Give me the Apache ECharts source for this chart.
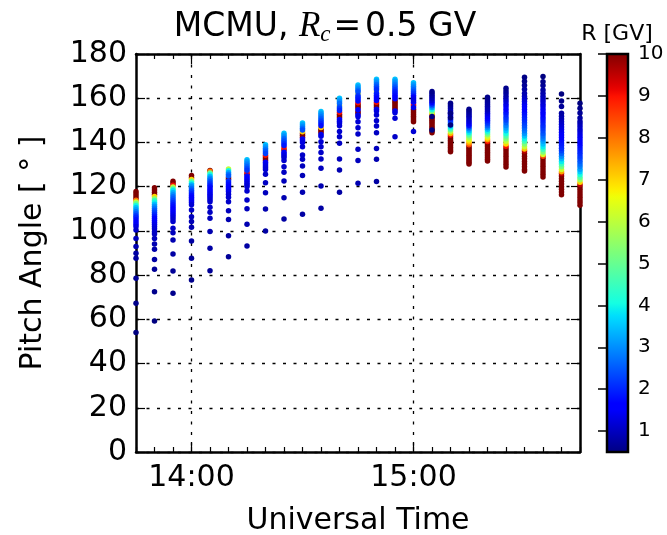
<!DOCTYPE html>
<html><head><meta charset="utf-8">
<script src="https://cdn.jsdelivr.net/npm/echarts@6/dist/echarts.min.js"></script>
<style>html,body{margin:0;padding:0;background:#fff}#c{width:667px;height:535px}</style>
</head><body><div id="c"></div>
<script>
// time of each column, minutes after 00:00 UT (13:45 ... 15:45)
const colTimes = [825,830,835,840,845,850,855,860,865,870,875,880,885,890,895,900,905,910,915,920,925,930,935,940,945];
const hourLabels = {840:'14:00', 900:'15:00'};
const yTicks = [0,20,40,60,80,100,120,140,160,180];
const cbTicks = [1,2,3,4,5,6,7,8,9,10];

// each column: [pitch angle (deg), rigidity R (GV)]
const col1345 = [[117.8,14],[116.8,12],[115.8,11],[114.8,10],[113.9,8],[113.1,6],[112.3,5],[111.4,4],[110.5,3.5],[109.6,3.2],[108.7,2.8],[107.8,2.5],[106.9,2.2],[106,2],[105,1.8],[104,1.6],[103,1.5],[102,1.3],[100.4,1.1],[96.6,1],[92.9,0.9],[89.9,0.8],[87.6,0.75],[78.6,0.7],[67.3,0.6],[54,0.5]];
const col1350 = [[119.5,14],[118.5,12],[117.5,11],[116.5,10],[115.5,7],[114.5,5.5],[113.7,4.5],[112.9,4],[112,3.5],[111.1,3.1],[110.2,2.8],[109.3,2.5],[108.4,2.3],[107.5,2.1],[106.6,1.9],[105.7,1.7],[104.8,1.6],[103.9,1.5],[103,1.4],[102,1.3],[101,1.2],[99.6,1.1],[98.6,1.05],[96.6,1],[94.1,0.9],[91.7,0.85],[87.1,0.8],[82.6,0.7],[72.5,0.6],[59.2,0.5]];
const col1355 = [[122.5,13],[121.5,11],[120.6,9],[119.8,6],[119,4.5],[118.1,3.8],[117.2,3.3],[116.3,3],[115.4,2.7],[114.5,2.5],[113.6,2.3],[112.7,2.1],[111.8,1.9],[110.9,1.8],[110,1.7],[109.1,1.6],[108.2,1.5],[107.3,1.4],[106.4,1.3],[105.4,1.2],[104.3,1.15],[101.2,1.1],[99.2,1],[95.9,0.9],[89.6,0.8],[81.9,0.7],[71.8,0.6]];
const col1400 = [[125,12],[124,10],[123.2,7],[122.4,5],[121.6,4],[120.8,3.3],[120,3],[119.2,2.7],[118.4,2.4],[117.6,2.2],[116.8,2],[116,1.8],[115.2,1.7],[114.4,1.6],[113.6,1.5],[112.8,1.4],[111.8,1.2],[109.5,1.1],[106.4,1],[104.2,0.95],[101.6,0.9],[95.4,0.8],[87.6,0.7],[77.8,0.6]];
const col1405 = [[127.3,10],[127,8],[126.2,5],[125.4,4],[124.6,3.4],[123.8,3],[123,2.7],[122.2,2.4],[121.4,2.2],[120.6,2],[119.8,1.8],[119,1.7],[118.2,1.6],[117.4,1.5],[116.6,1.4],[115.8,1.35],[115,1.3],[114.1,1.2],[113.2,1.15],[110.7,1.1],[108.4,1.05],[105.7,1],[99.7,0.9],[92.1,0.8],[82,0.7]];
const col1410 = [[128,6],[127.2,4],[126.4,3.3],[125.6,2.8],[124.8,2.5],[124,10],[123.4,12],[122.6,2.1],[121.8,1.9],[121,1.8],[120.2,1.7],[119.4,1.6],[118.6,1.5],[117.8,1.4],[116.6,1.2],[115.2,1.15],[113.2,1.1],[109.1,1],[105.2,0.9],[97.8,0.8],[88.3,0.7]];
const col1415 = [[132.2,3.5],[131.4,3.2],[130.6,3],[129.8,2.8],[129,2.6],[128.2,2.4],[127.4,2.2],[126.4,9],[125.6,11],[124.8,1.8],[124,1.6],[123.2,1.5],[122.4,1.4],[121.6,1.3],[120.8,1.25],[120,1.2],[118,1.15],[114,1.1],[110,1],[103,0.9],[93.2,0.8]];
const col1420 = [[139,3.5],[138.2,3.2],[137.4,3],[136.6,2.7],[135.8,2.5],[135,2.3],[134.2,9],[133.4,10],[132.6,11],[131.8,12],[131,1.5],[130.2,1.4],[129.4,1.3],[128.6,1.25],[127.8,1.2],[125.6,1.1],[121.8,1.05],[117.3,1],[109.9,0.9],[100,0.8]];
const col1425 = [[144.2,3.5],[143.4,3.2],[142.6,3],[141.8,2.7],[141,2.5],[140.2,2.3],[139.4,2.1],[138.6,1.9],[137.6,9],[136.6,11],[135.6,1.5],[134.8,1.4],[134,1.3],[133.2,1.2],[131.8,1.15],[129,1.1],[126.5,1.05],[122.6,1],[115,0.9],[105.4,0.8]];
const col1430 = [[148.8,3.5],[148,3.2],[147.2,3],[146.4,2.7],[145.6,2.4],[144.8,7],[144,10],[143.2,11],[142.4,12],[141.6,1.6],[140.8,1.4],[140,1.3],[138.1,1.2],[134.3,1.1],[132.4,1.05],[129.4,1],[125,0.95],[117.5,0.9],[107.5,0.8]];
const col1435 = [[154,3.5],[153.2,3.2],[152.4,3],[151.6,2.8],[150.8,2.6],[150,2.4],[149.2,2.2],[148.4,2],[147.6,1.8],[146.8,7],[146,10],[145.2,11],[144.4,12],[143.6,1.4],[142.8,1.3],[140.3,1.2],[138.1,1.15],[135.4,1.1],[132.5,1.05],[128.3,1],[120.3,0.9],[110.2,0.8]];
const col1440 = [[160,3.5],[159.2,3.2],[158.4,3],[157.6,2.7],[156.8,6.5],[156,2.4],[155.2,2.2],[154.4,2],[153.6,9],[152.8,11],[152,10],[151.2,12],[150.4,1.6],[149.6,1.4],[148.8,1.3],[147.6,1.2],[144.9,1.15],[142.6,1.1],[139.6,1.05],[132.5,1],[127.5,0.9],[117.5,0.8]];
const col1445 = [[166,3.5],[165.2,3.2],[164.4,3],[163.6,2.7],[162.8,2.4],[162,6.5],[161.2,2.2],[160.4,2],[159.6,1.9],[158.8,1.8],[158,9],[157.2,11],[156.4,10],[155.6,12],[154.8,1.6],[154,13],[153.2,11],[152.4,1.4],[151.6,1.3],[149.4,1.2],[146.7,1.15],[143.8,1.1],[136.9,1.05],[131.8,1],[121.5,0.9]];
const col1450 = [[168.6,3.5],[167.8,3.2],[167,3],[166.2,2.7],[165.4,2.5],[164.6,2.3],[163.8,2.1],[163,6.5],[162.2,2],[161.4,1.9],[160.6,1.8],[159.8,1.7],[159,1.6],[158.2,9],[157.4,11],[156.6,10],[155.8,12],[155,1.4],[154.2,1.3],[152.4,1.2],[149.8,1.15],[147.4,1.1],[144.4,1.05],[137.3,1],[132.4,0.9],[122.3,0.8]];
const col1455 = [[168.6,3.5],[167.8,3.2],[167,3],[166.2,2.8],[165.4,2.6],[164.6,2.4],[163.8,2.2],[163,2],[162.2,1.9],[161.4,1.8],[160.6,1.7],[159.8,1.6],[159,10],[158.2,12],[157.4,11],[156.6,13],[155.8,10],[155,12],[154.2,1.4],[153.4,1.3],[150.9,1.2],[142.6,1.1]];
const col1500 = [[167,3.5],[166.2,3.2],[165.4,3],[164.6,2.8],[163.8,2.6],[163,2.4],[162.2,2.2],[161.4,2],[160.6,1.5],[159.8,1.4],[159,1.3],[158.2,1.6],[157.4,9],[156.6,11],[155.8,1.4],[155,12],[154.2,10],[153.4,13],[152.6,11],[151.8,14],[151,12],[150.2,15],[149.4,13],[144.9,1.2]];
const col1505 = [[163,0.6],[162.2,0.7],[161.4,0.8],[160.6,0.9],[159.8,1],[159,1.2],[158.2,1.5],[157.4,2],[156.6,2.6],[155.8,3.2],[155,4],[154.2,5],[153.4,6.2],[152.8,7.5],[152.2,9],[151.5,10.5],[150.8,11],[150,12],[149.2,13],[148.4,14],[147.6,15],[146.8,16],[146,17],[145.2,18],[144.4,19],[151.7,0.55],[145.6,0.5]];
const col1510 = [[157.7,0.6],[156.9,0.7],[156.1,0.8],[155.3,0.9],[154.5,1],[153.7,1.2],[152.9,1.4],[152.1,1.6],[151.3,1.8],[150.5,2],[149.7,2.3],[148.9,2.7],[148.1,3.1],[147.3,3.6],[146.5,4.2],[145.7,5],[144.9,6],[144.1,7.3],[143.4,9],[142.6,10.5],[141.8,11],[141,12],[140.2,13],[139.4,14],[138.6,15],[137.8,16],[137,17],[136.2,18],[135.8,19],[153.2,0.55],[151.2,0.52],[147.9,0.5]];
const col1515 = [[155,0.6],[154.2,0.7],[153.4,0.8],[152.6,0.9],[151.8,1],[151,1.1],[150.2,1.2],[149.4,1.3],[148.6,1.5],[147.8,1.8],[147,2.3],[146.2,2.9],[145.4,3.4],[144.6,3.9],[143.8,4.5],[143,5.1],[142.2,5.7],[141.4,6.3],[140.6,6.9],[139.8,7.6],[139,8.5],[138.2,10],[137.4,11],[136.6,12],[135.8,13],[135,14],[134.2,15],[133.4,16],[132.6,17],[131.8,18],[131,19],[130.3,20]];
const col1520 = [[160.4,0.6],[159.6,0.7],[158.8,0.75],[158,0.8],[157.2,0.85],[156.4,0.9],[155.6,0.95],[154.8,1],[154,1.15],[153.2,1.3],[152.4,1.45],[151.6,1.6],[150.8,1.75],[150,1.9],[149.2,2.1],[148.4,2.3],[147.6,2.6],[146.8,3],[146,3.5],[145.2,4],[144.4,4.7],[143.6,5.4],[142.8,6.1],[142,6.8],[141.2,7.6],[140.4,9],[139.6,10.5],[138.8,11],[138,12],[137.2,13],[136.4,14],[135.6,15],[134.8,16],[134,17],[133.2,18],[132.4,19],[131.6,20]];
const col1525 = [[164.5,0.6],[163.3,0.7],[162.1,0.8],[160.9,0.9],[159.7,1.1],[158.5,1.25],[157.3,1.4],[156.1,1.55],[154.9,1.7],[153.7,1.85],[152.5,2],[151.3,2.15],[150.1,2.3],[148.9,2.6],[147.7,2.9],[146.5,3.2],[145.3,3.6],[144.1,4.1],[142.9,4.7],[141.7,5.3],[140.5,6],[139.3,7],[138.3,9],[137.3,10.5],[136.1,11],[134.9,12],[133.7,13],[132.5,14],[131.3,15],[130.1,16],[128.9,17]];
const col1530 = [[169.5,0.55],[167.7,0.6],[165.9,0.7],[164.1,0.8],[162.3,0.9],[160.9,1.05],[159.7,1.2],[158.5,1.35],[157.3,1.5],[156.1,1.6],[154.9,1.7],[153.7,1.8],[152.5,1.9],[151.3,2],[150.1,2.1],[148.9,2.25],[147.7,2.4],[146.5,2.6],[145.3,2.8],[144.1,3.1],[142.9,3.5],[141.7,4],[140.5,4.6],[139.3,5.3],[138.1,6.1],[137,7.2],[136.1,9.5],[135,10.5],[133.8,11],[132.6,12],[131.4,13],[130.2,14],[129,15],[127.8,16],[127.1,17]];
const col1535 = [[169.8,0.5],[167.5,0.6],[165.7,0.7],[163.7,0.8],[162.2,0.9],[160.9,1],[159.7,1.1],[158.5,1.2],[157.3,1.3],[156.1,1.4],[154.9,1.5],[153.7,1.6],[152.5,1.7],[151.3,1.8],[150.1,1.9],[148.9,2],[147.7,2.1],[146.5,2.2],[145.3,2.35],[144.1,2.5],[142.9,2.7],[141.7,2.9],[140.5,3.2],[139.3,3.5],[138.1,3.9],[136.9,4.5],[135.7,5.2],[134.6,6.2],[133.7,8.5],[132.8,10.5],[131.6,11],[130.4,12],[129.2,13],[128,14],[126.8,15],[125.6,16],[124.4,17]];
const col1540 = [[161.9,0.5],[158.8,0.6],[156.2,0.7],[153.2,0.8],[151.8,0.9],[150.6,1],[149.4,1.1],[148.2,1.2],[147,1.3],[145.8,1.4],[144.6,1.5],[143.4,1.6],[142.2,1.7],[141,1.8],[139.8,1.9],[138.6,2],[137.4,2.1],[136.2,2.3],[135,2.6],[133.8,3],[132.6,3.4],[131.4,3.9],[130.2,4.5],[129,5.2],[127.8,6.2],[126.8,7.5],[125.9,9.5],[124.8,10.5],[123.6,11],[122.4,12],[121.2,13],[120,14],[118.8,15],[117.6,16],[116.4,17]];
const col1545 = [[157.7,0.5],[155.5,0.6],[153.3,0.7],[151.1,0.8],[149.5,0.9],[148.3,1],[147.1,1.1],[145.9,1.2],[144.7,1.3],[143.5,1.4],[142.3,1.5],[141.1,1.6],[139.9,1.7],[138.7,1.8],[137.5,1.9],[136.3,2],[135.1,2.1],[133.9,2.2],[132.7,2.35],[131.5,2.5],[130.3,2.7],[129.1,2.9],[127.9,3.2],[126.7,3.6],[125.5,4.1],[124.3,4.8],[123.1,5.6],[122,7],[121,9.5],[120,10.5],[118.8,11],[117.6,12],[116.4,13],[115.2,14],[114,15],[112.8,16],[111.6,17]];

const columns = [col1345,col1350,col1355,col1400,col1405,col1410,col1415,col1420,col1425,col1430,col1435,col1440,col1445,col1450,col1455,col1500,col1505,col1510,col1515,col1520,col1525,col1530,col1535,col1540,col1545];

// ---- jet colormap ----
function interp(t, pts){
  for (let i=1;i<pts.length;i++){
    if (t<=pts[i][0]){const [x0,y0]=pts[i-1],[x1,y1]=pts[i];return y0+(y1-y0)*(t-x0)/(x1-x0);}
  }
  return pts[pts.length-1][1];
}
function jet(t){
  const r=interp(t,[[0,0],[0.35,0],[0.66,1],[0.89,1],[1,0.5]]);
  const g=interp(t,[[0,0],[0.125,0],[0.375,1],[0.64,1],[0.91,0],[1,0]]);
  const b=interp(t,[[0,0.5],[0.11,1],[0.34,1],[0.65,0],[1,0]]);
  return 'rgb('+Math.round(r*255)+','+Math.round(g*255)+','+Math.round(b*255)+')';
}
const N=64, jetColors=[], jetStops=[];
for(let i=0;i<=N;i++){jetColors.push(jet(i/N));jetStops.push({offset:i/N,color:jet(i/N)});}

const R_MIN=0.5, R_MAX=10;
const points=[];
columns.forEach((col,i)=>col.forEach(([p,r])=>points.push([colTimes[i],p,Math.min(r,R_MAX),r])));
points.sort((a,b)=>b[3]-a[3]);

const FONT='DejaVu Sans';
const dotted={color:'#000',width:1.3,type:[3,7.5]};
const chart=echarts.init(document.getElementById('c'),null,{renderer:'canvas'});
chart.setOption({
  animation:false,
  backgroundColor:'#fff',
  textStyle:{fontFamily:FONT},
  grid:[
    {left:136,top:54,width:444,height:398,containLabel:false,outerBoundsMode:'none'},
    {left:607,top:54,width:21,height:398,containLabel:false,outerBoundsMode:'none'}
  ],
  graphic:[
    {type:'rect',z:1,shape:{x:607,y:54,width:21,height:398},
     style:{fill:new echarts.graphic.LinearGradient(0,1,0,0,jetStops),stroke:'#000',lineWidth:2.5}},
    {type:'text',x:617,y:34,style:{text:'R [GV]',font:'22px "DejaVu Sans"',fill:'#000',align:'center',verticalAlign:'middle'}},
    {type:'text',x:325,y:27,style:{
      text:'{a|MCMU, }{i|R}{s|c}{e|=}{a|0.5 GV}',align:'center',verticalAlign:'middle',
      rich:{
        a:{fontFamily:FONT,fontSize:33,color:'#000'},
        i:{fontFamily:'Liberation Serif',fontStyle:'italic',fontSize:35,color:'#000'},
        s:{fontFamily:'Liberation Serif',fontStyle:'italic',fontSize:23,color:'#000',padding:[15,1,0,0]},
        e:{fontFamily:FONT,fontSize:33,color:'#000',padding:[0,4,0,2]}
      }}}
  ],
  visualMap:{type:'continuous',show:false,min:R_MIN,max:R_MAX,dimension:2,seriesIndex:0,inRange:{color:jetColors}},
  xAxis:[
    {gridIndex:0,type:'value',min:825,max:945,interval:5,position:'bottom',
     axisLine:{lineStyle:{color:'#000',width:2.5}},
     axisTick:{inside:true,length:5,lineStyle:{color:'#000',width:1.2}},
     axisLabel:{formatter:v=>hourLabels[v]||'',fontSize:30,color:'#000',margin:11,fontFamily:FONT},
     splitLine:{show:false},
     name:'Universal Time',nameLocation:'middle',nameGap:54,nameTextStyle:{fontSize:30,color:'#000',fontFamily:FONT}},
    {gridIndex:0,type:'value',min:825,max:945,position:'bottom',
     axisLine:{show:false},
     axisTick:{inside:true,length:10,customValues:[840,900],lineStyle:{color:'#000',width:1.2}},
     axisLabel:{show:false},
     splitLine:{show:true,lineStyle:dotted}},
    {gridIndex:0,type:'value',min:825,max:945,interval:5,position:'top',
     axisLine:{lineStyle:{color:'#000',width:2.5}},
     axisTick:{inside:true,length:5,lineStyle:{color:'#000',width:1.2}},
     axisLabel:{show:false},splitLine:{show:false}},
    {gridIndex:0,type:'value',min:825,max:945,position:'top',
     axisLine:{show:false},
     axisTick:{inside:true,length:10,customValues:[840,900],lineStyle:{color:'#000',width:1.2}},
     axisLabel:{show:false},splitLine:{show:false}},
    {gridIndex:1,type:'value',min:0,max:1,show:false}
  ],
  yAxis:[
    {gridIndex:0,type:'value',min:0,max:180,interval:20,position:'left',
     axisLine:{lineStyle:{color:'#000',width:2.5}},
     axisTick:{inside:true,length:9,lineStyle:{color:'#000',width:1.2}},
     axisLabel:{fontSize:30,color:'#000',margin:9,fontFamily:FONT},
     splitLine:{show:true,lineStyle:dotted},
     name:'Pitch Angle [ ° ]',nameLocation:'middle',nameGap:88,nameRotate:90,
     nameTextStyle:{fontSize:30,color:'#000',fontFamily:FONT}},
    {gridIndex:0,type:'value',min:0,max:180,interval:20,position:'right',
     axisLine:{lineStyle:{color:'#000',width:2.5}},
     axisTick:{inside:true,length:9,lineStyle:{color:'#000',width:1.2}},
     axisLabel:{show:false},splitLine:{show:false}},
    {gridIndex:1,type:'value',min:R_MIN,max:R_MAX,position:'right',z:10,
     axisLine:{show:false},
     axisTick:{inside:true,length:9,customValues:cbTicks,lineStyle:{color:'#000',width:1.5}},
     axisLabel:{customValues:cbTicks,fontSize:20,color:'#000',margin:10,fontFamily:FONT},
     splitLine:{show:false}}
  ],
  series:[
    {type:'scatter',xAxisIndex:0,yAxisIndex:0,symbolSize:5.5,data:points,
     itemStyle:{opacity:1,borderWidth:0},silent:true,z:3}
  ]
});
</script></body></html>
